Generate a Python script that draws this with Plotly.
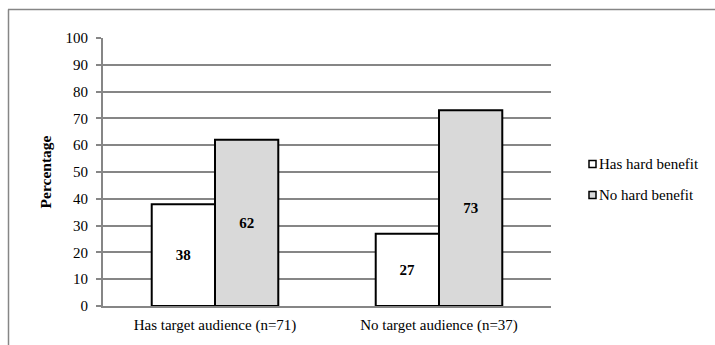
import plotly.graph_objects as go

categories = ["Has target audience (n=71)", "No target audience (n=37)"]
series_names = ["Has hard benefit", "No hard benefit"]
has_hard_benefit = [38, 27]
no_hard_benefit = [62, 73]
y_ticks = [0, 10, 20, 30, 40, 50, 60, 70, 80, 90, 100]

colors = ["#FFFFFF", "#D9D9D9"]
FONT = "Liberation Serif, Times New Roman, serif"

fig = go.Figure()
for name, vals, col in zip(series_names, [has_hard_benefit, no_hard_benefit], colors):
    fig.add_trace(go.Bar(
        x=categories, y=vals, name=name,
        marker=dict(color=col, line=dict(color="#000000", width=2)),
        text=[str(v) for v in vals], textposition="inside",
        insidetextanchor="middle", textangle=0,
        textfont=dict(family=FONT, size=15, color="#000000", weight="bold"),
        showlegend=False,
    ))

fig.update_layout(
    width=715, height=345,
    margin=dict(l=103, r=164, t=38, b=39),
    paper_bgcolor="#FFFFFF", plot_bgcolor="#FFFFFF",
    barmode="group", bargap=0.435, bargroupgap=0,
    font=dict(family=FONT, size=15, color="#000000"),
    xaxis=dict(showline=True, linecolor="#868686", linewidth=2, ticks="",
               tickfont=dict(family=FONT, size=15), showgrid=False,
               ticklabelstandoff=4),
    yaxis=dict(range=[0, 100], tickvals=y_ticks, showgrid=True,
               gridcolor="#868686", gridwidth=1.5, showline=True,
               linecolor="#868686", linewidth=2, ticks="outside", ticklen=5,
               tickcolor="#868686", tickwidth=1.5, zeroline=False,
               tickfont=dict(family=FONT, size=15), ticklabelstandoff=5,
               title=dict(text="<b>Percentage</b>", standoff=10,
                          font=dict(family=FONT, size=15.5))),
)

# Legend drawn manually (small squares + labels)
W, H = 448.0, 268.0
def px(x):
    return (x - 103) / W
def py(y):
    return (306 - y) / H

legend_rows = [164, 195]
for name, col, yy in zip(series_names, colors, legend_rows):
    fig.add_shape(type="rect", xref="paper", yref="paper",
                  x0=px(589), x1=px(596), y0=py(yy + 3.5), y1=py(yy - 3.5),
                  fillcolor=col, line=dict(color="#000000", width=1.5))
    fig.add_annotation(xref="paper", yref="paper", x=px(596.5), y=py(yy),
                       xanchor="left", yanchor="middle", text=name,
                       showarrow=False, font=dict(family=FONT, size=15, color="#000000"))

# Outer chart frame (top and left edges visible)
fig.add_shape(type="line", xref="paper", yref="paper",
              x0=px(8), x1=px(716), y0=py(9.5), y1=py(9.5),
              line=dict(color="#868686", width=1.5))
fig.add_shape(type="line", xref="paper", yref="paper",
              x0=px(8.5), x1=px(8.5), y0=py(9.5), y1=py(346),
              line=dict(color="#868686", width=1.5))

fig.write_html("out.html")
